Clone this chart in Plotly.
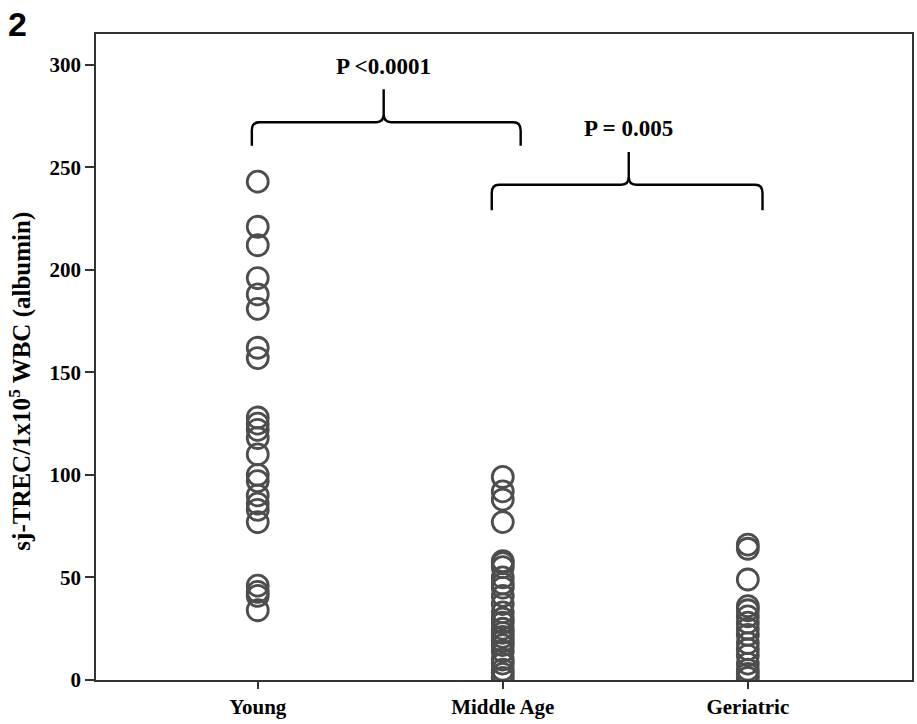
import plotly.graph_objects as go

categories = ["Young", "Middle Age", "Geriatric"]
young = [243, 221, 212, 196, 188, 181, 162, 157, 128, 125, 122, 118, 110, 100, 97, 90, 86, 83, 77, 46, 43, 41, 34]
middle_age = [99, 92, 88, 77, 58, 57, 55, 50, 47, 45, 41, 37, 33, 30, 28, 25, 23, 21, 19, 17, 14, 10, 8, 5, 3, 1]
geriatric = [66, 64, 49, 36, 34, 31, 28, 25, 22, 18, 15, 12, 8, 5, 3, 1]
y_ticks = [0, 50, 100, 150, 200, 250, 300]
comparisons = [
    {"label": "P <0.0001", "x0": -0.024, "x1": 1.073, "xc": 0.514, "bar": 272, "end": 260.5, "tip": 288, "text_y": 299},
    {"label": "P = 0.005", "x0": 0.955, "x1": 2.06, "xc": 1.514, "bar": 241.5, "end": 229, "tip": 257.5, "text_y": 269},
]

series = [young, middle_age, geriatric]
fig = go.Figure()
for i, vals in enumerate(series):
    fig.add_trace(go.Scatter(
        x=[i] * len(vals), y=vals, mode="markers",
        marker=dict(symbol="circle", size=21, color="rgba(0,0,0,0)",
                    line=dict(color="#4d4d4d", width=2.8)),
        showlegend=False, hoverinfo="y",
    ))

for c in comparisons:
    x0, x1, xc, yb, ye, yt = c["x0"], c["x1"], c["xc"], c["bar"], c["end"], c["tip"]
    dx = 0.03
    dy = 4
    path = (f"M {x0},{ye} L {x0},{yb-dy} Q {x0},{yb} {x0+dx},{yb} "
            f"L {xc-dx},{yb} Q {xc},{yb} {xc},{yb+dy} L {xc},{yt} "
            f"M {xc},{yb+dy} Q {xc},{yb} {xc+dx},{yb} "
            f"L {x1-dx},{yb} Q {x1},{yb} {x1},{yb-dy} L {x1},{ye}")
    fig.add_shape(type="path", path=path, xref="x", yref="y",
                  line=dict(color="black", width=2.4))
    fig.add_annotation(x=xc, y=c["text_y"], xref="x", yref="y", text=f"<b>{c['label']}</b>",
                       showarrow=False, font=dict(family="Liberation Serif", size=23, color="black"))

fig.add_annotation(x=0, y=1, xref="paper", yref="paper", xanchor="left", yanchor="top",
                   text="<b>2</b>", showarrow=False,
                   font=dict(family="Liberation Sans", size=34, color="black"),
                   xshift=-90, yshift=31)

fig.add_annotation(x=-0.093, y=0.462, xref="paper", yref="paper", xanchor="center", yanchor="middle",
                   text="<b>sj-TREC/1x10<sup>5</sup> WBC (albumin)</b>", textangle=-90, showarrow=False,
                   font=dict(family="Liberation Serif", size=25, color="black"))

fig.update_layout(
    width=917, height=724,
    margin=dict(l=96, r=5, t=34, b=44),
    paper_bgcolor="white", plot_bgcolor="white",
    font=dict(family="Liberation Serif", color="black"),
    xaxis=dict(range=[-0.66, 2.67], tickmode="array", tickvals=list(range(len(categories))),
               ticktext=[f"<b>{c}</b>" for c in categories], automargin=False,
               showline=True, linecolor="#333", linewidth=1.5, mirror=True,
               ticks="outside", ticklen=7, tickcolor="#333", tickwidth=1.5,
               showgrid=False, zeroline=False, tickfont=dict(size=21, family="Liberation Serif")),
    yaxis=dict(range=[0, 315], tickmode="array", tickvals=y_ticks,
               ticktext=[f"<b>{v}</b>" for v in y_ticks], automargin=False,
               showline=True, linecolor="#333", linewidth=1.5, mirror=True,
               ticks="outside", ticklen=9, tickcolor="#333", tickwidth=1.5,
               showgrid=False, zeroline=False, tickfont=dict(size=21, family="Liberation Serif")),
)
fig.write_html("out.html")
